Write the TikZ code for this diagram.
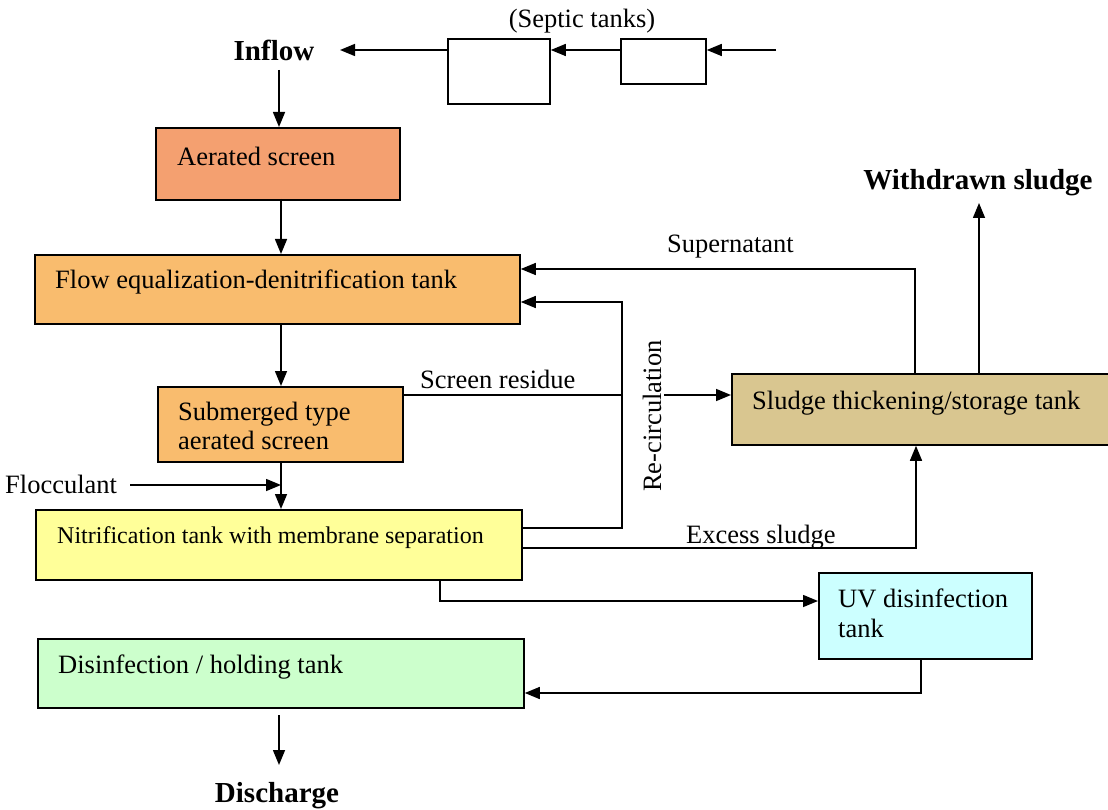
\documentclass[tikz,border=0pt]{standalone}
\usepackage{fontspec}
\setmainfont{Liberation Serif}
\usetikzlibrary{arrows.meta}
\definecolor{cAer}{HTML}{F4A070}
\definecolor{cOra}{HTML}{F9BC6E}
\definecolor{cNit}{HTML}{FFFF99}
\definecolor{cSlu}{HTML}{D9C690}
\definecolor{cUV}{HTML}{CCFFFF}
\definecolor{cDis}{HTML}{CCFFCC}
\begin{document}
\begin{tikzpicture}[x=1pt,y=-1pt,
 box/.style={draw=black, line width=1.8pt, anchor=north west, inner sep=0pt},
 txt/.style={anchor=base west, inner sep=0pt, font=\fontsize{26.5}{30}\selectfont},
 small/.style={anchor=base west, inner sep=0pt, font=\fontsize{24}{28}\selectfont},
 bold/.style={anchor=base, inner sep=0pt, font=\fontsize{29}{32}\selectfont\bfseries},
 con/.style={line width=1.5pt},
 arr/.style={con, -{Triangle[length=15pt,width=12pt]}}]
\useasboundingbox (0,0) rectangle (1108,810);

% septic tanks
\node[box, minimum width=102pt, minimum height=65pt] (s1) at (447,38) {};
\node[box, minimum width=85pt, minimum height=45pt] (s2) at (620,38) {};
\node[txt, anchor=base] (septic) at (582,28) {(Septic tanks)};
\coordinate (src) at (776,50);
\coordinate (inend) at (340,50);
\node[bold] (inflow) at (274,61) {Inflow};
\draw[arr] (src) -- (src -| s2.east);
\draw[arr] (s2.west |- src) -- (src -| s1.east);
\draw[arr] (s1.west |- src) -- (inend);

% boxes
\node[box, fill=cAer, minimum width=244pt, minimum height=72pt] (as) at (155,127) {};
\node[txt] (ast) at (177,166) {Aerated screen};
\node[box, fill=cOra, minimum width=485pt, minimum height=69pt] (fe) at (34,254) {};
\node[txt] (fet) at (55,289) {Flow equalization-denitrification tank};
\node[box, fill=cOra, minimum width=245pt, minimum height=75pt] (sm) at (157,386) {};
\node[txt] (smt1) at (178,420) {Submerged type};
\node[txt] (smt2) at (178,449) {aerated screen};
\node[box, fill=cNit, minimum width=486pt, minimum height=70pt] (nt) at (35,509) {};
\node[small] (ntt) at (57,543) {Nitrification tank with membrane separation};
\node[box, fill=cSlu, minimum width=384pt, minimum height=71pt] (st) at (731,373) {};
\node[txt] (stt) at (752,409) {Sludge thickening/storage tank};
\node[box, fill=cUV, minimum width=213pt, minimum height=86pt] (uv) at (818,572) {};
\node[txt] (uvt1) at (838,607) {UV disinfection};
\node[txt] (uvt2) at (838,637) {tank};
\node[box, fill=cDis, minimum width=486pt, minimum height=69pt] (di) at (37,638) {};
\node[txt] (dit) at (58,673) {Disinfection / holding tank};

% main vertical flow
\draw[arr] (279,70) -- (279,127);
\draw[arr] (281,199) -- (281,254);
\draw[arr] (281,323) -- (281,386);
\draw[arr] (281,461) -- (281,509);
\node[txt] (floc) at (5,493) {Flocculant};
\coordinate (flocs) at (130,485);
\draw[arr] (flocs) -- (281,485);

% screen residue and recirculation
\coordinate (jr) at (622,395);
\coordinate (jr2) at (664,395);
\draw[con] (sm.east |- jr) -- (jr);
\draw[arr] (jr2) -- (st.west |- jr);
\node[txt] (sr) at (420,388) {Screen residue};
\coordinate (rc1) at (622,528);
\coordinate (rc2) at (622,302);
\draw[arr] (nt.east |- rc1) -- (rc1) -- (rc2) -- (fe.east |- rc2);
\node[txt, anchor=base, rotate=90] (recirc) at (661,416) {Re-circulation};

% supernatant
\coordinate (sp1) at (915,269);
\draw[arr] (st.north -| sp1) -- (sp1) -- (fe.east |- sp1);
\node[txt] (spt) at (667,253) {Supernatant};

% withdrawn sludge
\node[bold] (wd) at (978,190) {Withdrawn sludge};
\draw[arr] (979,373) -- (979,203);

% excess sludge
\coordinate (ex1) at (916,548);
\draw[arr] (nt.east |- ex1) -- (ex1) -- (ex1 |- st.south);
\node[txt] (ext) at (686,543) {Excess sludge};

% to UV and back
\coordinate (u1) at (440,601);
\draw[arr] (u1 |- nt.south) -- (u1) -- (u1 -| uv.west);
\coordinate (u2) at (921,693);
\draw[arr] (u2 |- uv.south) -- (u2) -- (u2 -| di.east);

% discharge
\node[bold] (dis) at (277,802) {Discharge};
\draw[arr] (279,715) -- (279,765);
\end{tikzpicture}
\end{document}
